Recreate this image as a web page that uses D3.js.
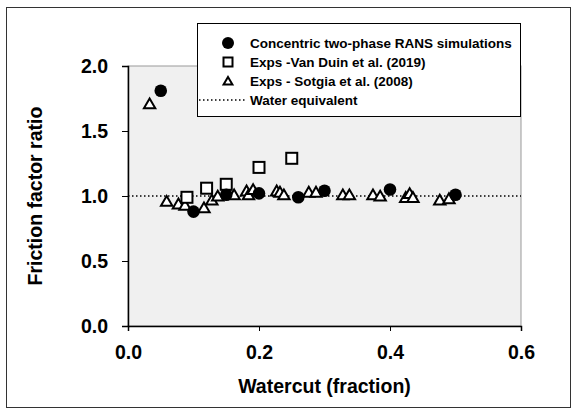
<!DOCTYPE html>
<html>
<head>
<meta charset="utf-8">
<script src="https://cdn.jsdelivr.net/npm/d3@7"></script>
<style>
  body { margin: 0; background: #fff; }
  text { font-family: "Liberation Sans", Arial, sans-serif; font-weight: bold; }
</style>
</head>
<body>
<div id="chart"></div>
<script>
// RANS simulations (filled circles)
var ransX = [0.05, 0.10, 0.15, 0.20, 0.26, 0.30, 0.40, 0.50];
var ransY = [1.81, 0.88, 1.01, 1.02, 0.99, 1.04, 1.05, 1.01];

// Van Duin et al. (2019) (open squares)
var duinX = [0.09, 0.12, 0.15, 0.20, 0.25];
var duinY = [0.99, 1.06, 1.09, 1.22, 1.29];

// Sotgia et al. (2008) (open triangles)
var sotgiaX = [0.033, 0.059, 0.077, 0.087, 0.116, 0.128, 0.137, 0.162, 0.181, 0.184, 0.191,
               0.227, 0.232, 0.238, 0.276, 0.287, 0.328, 0.338, 0.374, 0.385, 0.424, 0.430,
               0.435, 0.476, 0.490];
var sotgiaY = [1.70, 0.95, 0.93, 0.92, 0.90, 0.96, 0.99, 1.00, 1.03, 1.00, 1.04,
               1.03, 1.02, 1.00, 1.02, 1.02, 1.00, 1.00, 1.00, 0.99, 0.98, 1.01,
               0.98, 0.96, 0.97];

var xTicks = [0.0, 0.2, 0.4, 0.6];
var yTicks = [0.0, 0.5, 1.0, 1.5, 2.0];
var legendLabels = ["Concentric two-phase RANS simulations", "Exps -Van Duin et al. (2019)",
                    "Exps - Sotgia et al. (2008)", "Water equivalent"];

var width = 577, height = 414;
var margin = {top: 66, left: 128, right: 56, bottom: 88};

var svg = d3.select("#chart").append("svg")
  .attr("width", width)
  .attr("height", height);

// outer frame
svg.append("rect")
  .attr("x", 6.5).attr("y", 7.5)
  .attr("width", 564).attr("height", 400)
  .attr("fill", "none").attr("stroke", "#333").attr("stroke-width", 1);

var x = d3.scaleLinear().domain([0, 0.6]).range([margin.left, width - margin.right]);
var y = d3.scaleLinear().domain([0, 2]).range([height - margin.bottom, margin.top]);

// plot background
svg.append("rect")
  .attr("x", x(0)).attr("y", y(2))
  .attr("width", x(0.6) - x(0)).attr("height", y(0) - y(2))
  .attr("fill", "#f0f0f0")
  .attr("stroke", "#999").attr("stroke-width", 1);

// water equivalent line
svg.append("line")
  .attr("x1", x(0)).attr("x2", x(0.6))
  .attr("y1", y(1)).attr("y2", y(1))
  .attr("stroke", "#000").attr("stroke-width", 1.5)
  .attr("stroke-dasharray", "1.5,2.5");

// axes
var xAxis = svg.append("g")
  .attr("transform", "translate(0," + y(0) + ")")
  .call(d3.axisBottom(x).tickValues(xTicks).tickFormat(d3.format(".1f")).tickSizeOuter(0).tickSize(5).tickPadding(14));
var yAxis = svg.append("g")
  .attr("transform", "translate(" + x(0) + ",0)")
  .call(d3.axisLeft(y).tickValues(yTicks).tickFormat(d3.format(".1f")).tickSizeOuter(0).tickSize(6).tickPadding(14));

[xAxis, yAxis].forEach(function(a) {
  a.selectAll("text").style("font-size", "19.5px").attr("fill", "#000")
    .style("font-family", "'Liberation Sans', Arial, sans-serif").style("font-weight", "bold");
  a.select(".domain").attr("stroke", "#000").attr("stroke-width", 1.5);
  a.selectAll(".tick line").attr("stroke", "#000");
});

// axis titles
svg.append("text")
  .attr("x", x(0.3)).attr("y", 393)
  .attr("text-anchor", "middle")
  .style("font-size", "19.5px")
  .text("Watercut (fraction)");

svg.append("text")
  .attr("transform", "translate(42," + y(1) + ") rotate(-90)")
  .attr("text-anchor", "middle")
  .style("font-size", "19.5px")
  .text("Friction factor ratio");

var tri = d3.symbol().type(d3.symbolTriangle).size(56);

// Sotgia triangles
svg.selectAll(".sotgia")
  .data(sotgiaX)
  .enter().append("path")
  .attr("class", "sotgia")
  .attr("d", tri)
  .attr("transform", function(d, i) { return "translate(" + x(d) + "," + y(sotgiaY[i]) + ")"; })
  .attr("fill", "#fff").attr("stroke", "#000").attr("stroke-width", 2);

// Van Duin squares
svg.selectAll(".duin")
  .data(duinX)
  .enter().append("rect")
  .attr("class", "duin")
  .attr("x", function(d) { return x(d) - 5.5; })
  .attr("y", function(d, i) { return y(duinY[i]) - 5.5; })
  .attr("width", 11).attr("height", 11)
  .attr("fill", "#fff").attr("stroke", "#000").attr("stroke-width", 2);

// RANS circles
svg.selectAll(".rans")
  .data(ransX)
  .enter().append("circle")
  .attr("class", "rans")
  .attr("cx", function(d) { return x(d); })
  .attr("cy", function(d, i) { return y(ransY[i]); })
  .attr("r", 6.3)
  .attr("fill", "#000");

// legend
var lg = svg.append("g");
lg.append("rect")
  .attr("x", 197.5).attr("y", 23.5)
  .attr("width", 323).attr("height", 93)
  .attr("fill", "#fff").attr("stroke", "#000").attr("stroke-width", 1);

var rowY = [43, 62, 81, 100];
lg.append("circle").attr("cx", 228).attr("cy", rowY[0]).attr("r", 6).attr("fill", "#000");
lg.append("rect").attr("x", 223.5).attr("y", rowY[1] - 4.5).attr("width", 9).attr("height", 9)
  .attr("fill", "#fff").attr("stroke", "#000").attr("stroke-width", 2);
lg.append("path").attr("d", d3.symbol().type(d3.symbolTriangle).size(34))
  .attr("transform", "translate(228," + (rowY[2] + 1) + ")")
  .attr("fill", "#fff").attr("stroke", "#000").attr("stroke-width", 2);
lg.append("line").attr("x1", 199).attr("x2", 245).attr("y1", rowY[3]).attr("y2", rowY[3])
  .attr("stroke", "#000").attr("stroke-width", 1.5).attr("stroke-dasharray", "1.5,2.5");

lg.selectAll(".lab")
  .data(legendLabels)
  .enter().append("text")
  .attr("class", "lab")
  .attr("x", 250)
  .attr("y", function(d, i) { return rowY[i] + 5; })
  .style("font-size", "13.5px")
  .text(function(d) { return d; });
</script>
</body>
</html>
